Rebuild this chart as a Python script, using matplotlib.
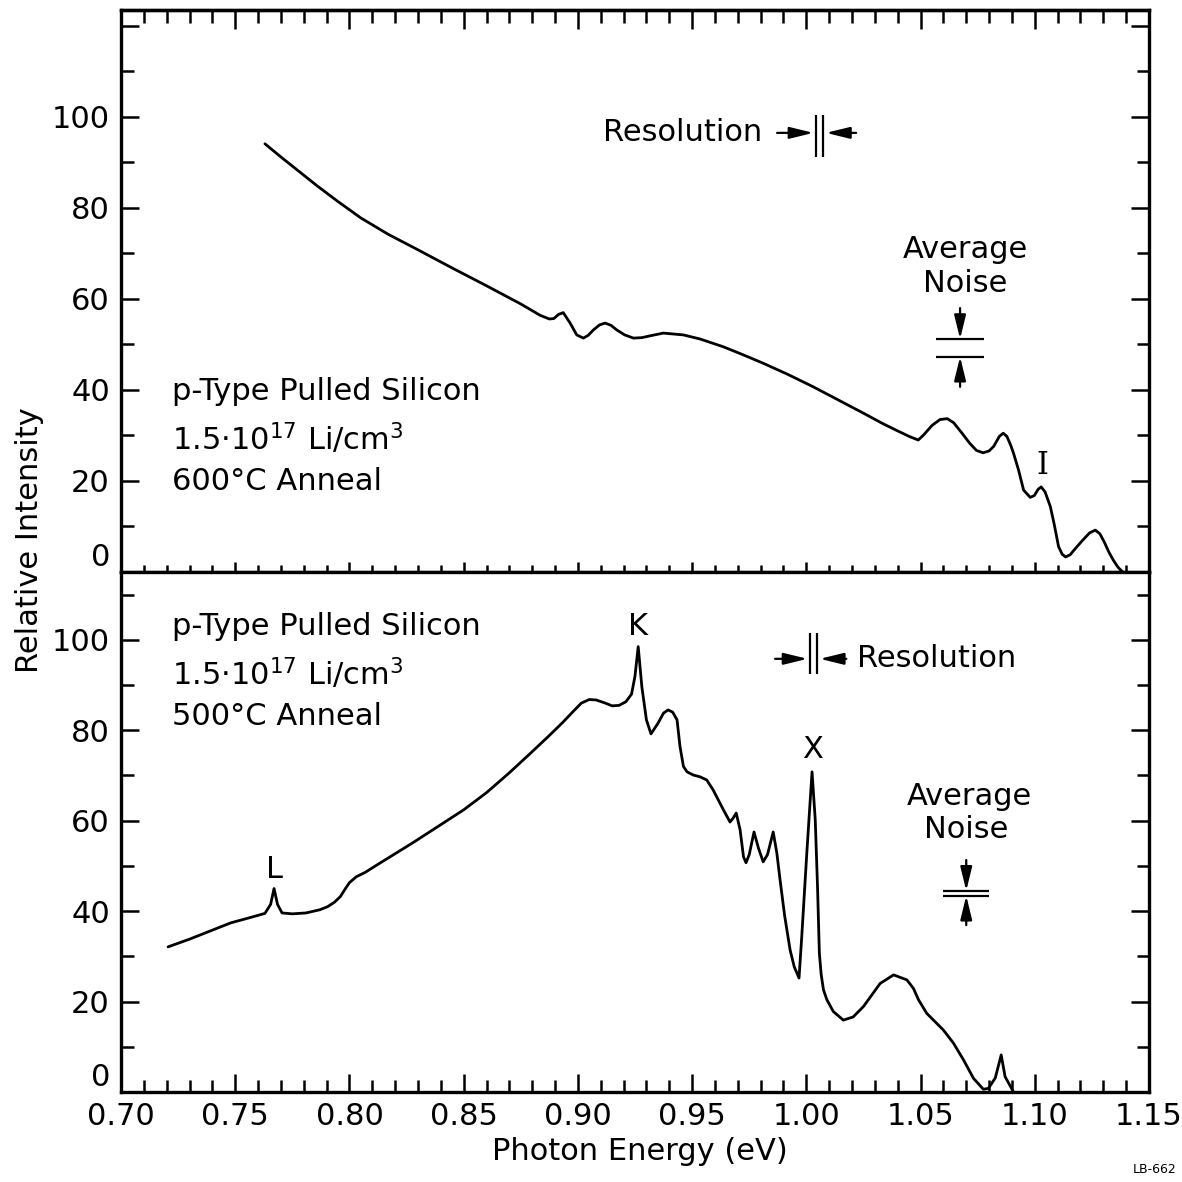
import matplotlib
matplotlib.use("Agg")
import matplotlib.pyplot as plt
from matplotlib.ticker import MultipleLocator, FixedLocator

# ---- 600 C anneal spectrum (upper panel) ----
energy_600 = [0.763, 0.770, 0.778, 0.786, 0.795, 0.805, 0.817, 0.830, 0.845, 0.860,
              0.875, 0.8835, 0.8875, 0.8895, 0.8915, 0.8936, 0.8966, 0.8995, 0.9024, 0.9045,
              0.9068, 0.9095, 0.9119, 0.9145, 0.917, 0.9205, 0.9243, 0.928, 0.9316, 0.9374,
              0.9462, 0.9535, 0.9636, 0.972, 0.981, 0.992, 1.003, 1.014, 1.025, 1.0335,
              1.040, 1.045, 1.049, 1.0515, 1.055, 1.0585, 1.0617, 1.0645, 1.068, 1.0715,
              1.0745, 1.0774, 1.080, 1.082, 1.0845, 1.0862, 1.0878, 1.0895, 1.0907, 1.0929,
              1.0951, 1.098, 1.0998, 1.1015, 1.1028, 1.1045, 1.1068, 1.1085, 1.1104, 1.112,
              1.1135, 1.1155, 1.118, 1.121, 1.124, 1.1265, 1.1285, 1.1305, 1.1325, 1.1345,
              1.1365, 1.1385]
intensity_600 = [94.1, 91.2, 88.0, 84.8, 81.4, 77.8, 74.2, 70.8, 66.8, 62.9,
                 58.9, 56.4, 55.6, 55.7, 56.6, 57.0, 54.7, 52.1, 51.4, 52.0,
                 53.2, 54.3, 54.7, 54.2, 53.2, 52.1, 51.4, 51.5, 51.9, 52.5,
                 52.1, 51.2, 49.5, 47.8, 45.9, 43.4, 40.7, 37.8, 34.9, 32.6,
                 31.0, 29.8, 29.0, 30.2, 32.2, 33.5, 33.7, 32.8, 30.6, 28.3,
                 26.7, 26.2, 26.6, 27.6, 29.8, 30.5, 29.8, 27.8, 26.1, 22.4,
                 18.0, 16.4, 16.8, 18.2, 18.7, 17.6, 14.4, 10.5, 5.6, 3.9,
                 3.3, 3.8, 5.3, 7.0, 8.6, 9.2, 8.4, 6.5, 4.3, 2.5,
                 1.0, 0.0]

# ---- 500 C anneal spectrum (lower panel) ----
energy_500 = [0.7206, 0.730, 0.740, 0.748, 0.756, 0.763, 0.7655, 0.767, 0.7685, 0.7705,
              0.775, 0.781, 0.787, 0.7905, 0.7935, 0.796, 0.798, 0.800, 0.803, 0.807,
              0.812, 0.820, 0.828, 0.839, 0.850, 0.860, 0.870, 0.879, 0.887, 0.8935,
              0.898, 0.9015, 0.905, 0.908, 0.912, 0.915, 0.918, 0.921, 0.9235, 0.925,
              0.9264, 0.928, 0.930, 0.932, 0.935, 0.9375, 0.9395, 0.9415, 0.9434, 0.9447,
              0.9462, 0.9478, 0.9505, 0.9535, 0.9564, 0.9592, 0.9637, 0.9666, 0.968, 0.9693,
              0.971, 0.9725, 0.9736, 0.975, 0.9771, 0.979, 0.9811, 0.983, 0.9855, 0.9871,
              0.9885, 0.9905, 0.9929, 0.9947, 0.9968, 0.9980, 1.0002, 1.0025, 1.0039, 1.0049,
              1.0057, 1.0065, 1.0075, 1.009, 1.0118, 1.0162, 1.0205, 1.025, 1.0323, 1.0382,
              1.044, 1.0469, 1.0491, 1.0527, 1.060, 1.0644, 1.0688, 1.0732, 1.0775, 1.0797,
              1.0827, 1.0853, 1.087, 1.0907]
intensity_500 = [32.1, 33.8, 35.8, 37.4, 38.5, 39.5, 41.5, 45.0, 41.5, 39.6,
                 39.4, 39.6, 40.3, 41.0, 42.0, 43.2, 44.8, 46.3, 47.6, 48.6,
                 50.2, 52.7, 55.2, 58.8, 62.4, 66.2, 70.6, 74.8, 78.6, 81.8,
                 84.2, 86.0, 86.8, 86.7, 86.0, 85.4, 85.5, 86.3, 88.0, 92.0,
                 98.5, 89.6, 82.3, 79.2, 81.5, 83.8, 84.5, 84.0, 82.3, 76.4,
                 72.0, 70.8, 70.1, 69.7, 69.0, 66.8, 62.4, 59.7, 60.6, 61.7,
                 58.0, 52.0, 50.7, 52.5, 57.5, 54.0, 50.9, 52.5, 57.5, 52.8,
                 46.9, 39.0, 31.4, 27.7, 25.2, 34.4, 52.8, 70.8, 60.2, 45.4,
                 30.7, 26.0, 22.6, 20.4, 17.8, 15.9, 16.6, 18.9, 24.0, 25.9,
                 24.8, 22.9, 20.4, 17.4, 13.7, 10.8, 7.1, 3.0, 0.6, 0.8,
                 3.1, 8.2, 3.4, 0.0]

# instrument markers (eV for resolution, intensity units for noise)
resolution_top = [1.0043, 1.0074]
resolution_bot = [1.0017, 1.0047]
noise_top = [47.3, 51.2]
noise_bot = [43.4, 44.5]

x_ticklabels = ["0.70", "0.75", "0.80", "0.85", "0.90", "0.95",
                "1.00", "1.05", "1.10", "1.15"]

FS = 22
LW_AX = 2.4
plt.rcParams["font.family"] = ["DejaVu Sans"]
plt.rcParams["mathtext.fontset"] = "dejavusans"

W = 1182.0
fig = plt.figure(figsize=(11.82, 11.82), dpi=100)
left = 121 / W
width = 1028 / W
ax_top = fig.add_axes([left, 1 - 572 / W, width, 562 / W])
ax_bot = fig.add_axes([left, 1 - 1092 / W, width, 520 / W], sharex=ax_top)

ax_top.set_xlim(0.70, 1.15)
ax_top.set_ylim(0, 123.5)
ax_bot.set_ylim(0, 115)

for ax in (ax_top, ax_bot):
    for sp in ax.spines.values():
        sp.set_linewidth(LW_AX)
    ax.yaxis.set_major_locator(MultipleLocator(20))
    ax.yaxis.set_minor_locator(MultipleLocator(10))
    ax.tick_params(axis="y", which="both", direction="in", left=True, right=True,
                   width=1.8, labelsize=FS, pad=8)
    ax.tick_params(axis="y", which="major", length=13)
    ax.tick_params(axis="y", which="minor", length=9)

ax_top.xaxis.set_major_locator(MultipleLocator(0.05))
ax_top.xaxis.set_minor_locator(MultipleLocator(0.01))

# upper panel: crossing ticks along the shared divider, inward ticks on top
ax_top.tick_params(axis="x", which="both", direction="inout", bottom=True, top=False,
                   labelbottom=False, width=1.8)
ax_top.tick_params(axis="x", which="major", length=15)
ax_top.tick_params(axis="x", which="minor", length=10)
sec = ax_top.secondary_xaxis("top")
sec.xaxis.set_major_locator(MultipleLocator(0.05))
sec.xaxis.set_minor_locator(MultipleLocator(0.01))
sec.tick_params(axis="x", which="both", direction="in", width=1.8, labeltop=False)
sec.tick_params(axis="x", which="major", length=14)
sec.tick_params(axis="x", which="minor", length=9)
sec.spines["top"].set_linewidth(LW_AX)

# lower panel: inward ticks along the energy axis
ax_bot.tick_params(axis="x", which="both", direction="in", bottom=True, top=False,
                   labelsize=FS, width=1.8, pad=7)
ax_bot.tick_params(axis="x", which="major", length=13)
ax_bot.tick_params(axis="x", which="minor", length=9)
ax_bot.xaxis.set_major_locator(FixedLocator([0.70 + 0.05 * i for i in range(len(x_ticklabels))]))
ax_bot.set_xticklabels(x_ticklabels)

ax_top.set_yticks([0, 20, 40, 60, 80, 100, 120])
ax_top.set_yticklabels(["0", "20", "40", "60", "80", "100", ""])
ax_bot.set_yticks([0, 20, 40, 60, 80, 100])
ax_bot.set_yticklabels(["0", "20", "40", "60", "80", "100"])
for ax in (ax_top, ax_bot):
    lab0 = ax.get_yticklabels()[0]
    lab0.set_verticalalignment("bottom")

# spectra
ax_top.plot(energy_600, intensity_600, color="black", lw=2.0,
            solid_joinstyle="round", solid_capstyle="round")
ax_bot.plot(energy_500, intensity_500, color="black", lw=2.0,
            solid_joinstyle="round", solid_capstyle="round")

# sample descriptions
ax_top.text(0.7223, 39.6, "p-Type Pulled Silicon", fontsize=FS, va="center", ha="left")
ax_top.text(0.7223, 29.4, r"1.5$\cdot$10$^{17}$ Li/cm$^{3}$", fontsize=FS, va="center", ha="left")
ax_top.text(0.7223, 19.8, "600°C Anneal", fontsize=FS, va="center", ha="left")
ax_bot.text(0.7223, 102.9, "p-Type Pulled Silicon", fontsize=FS, va="center", ha="left")
ax_bot.text(0.7223, 92.6, r"1.5$\cdot$10$^{17}$ Li/cm$^{3}$", fontsize=FS, va="center", ha="left")
ax_bot.text(0.7223, 83.0, "500°C Anneal", fontsize=FS, va="center", ha="left")

# peak labels
ax_top.text(1.1032, 23.5, "I", fontsize=FS, ha="center", va="center", family="DejaVu Serif")
ax_bot.text(0.9262, 103.0, "K", fontsize=FS, ha="center", va="center")
ax_bot.text(1.0025, 75.7, "X", fontsize=FS, ha="center", va="center")
ax_bot.text(0.7674, 49.3, "L", fontsize=FS, ha="center", va="center")

arrow = dict(arrowstyle="-|>,head_width=0.22,head_length=0.9", color="black",
             lw=1.6, shrinkA=0, shrinkB=0, mutation_scale=16)

# resolution markers
def resolution(ax, edges, y, y0, y1, xl, xr):
    ax.vlines(edges, y0, y1, color="black", lw=1.6)
    ax.annotate("", xy=(edges[0] - 0.0012, y), xytext=(xl, y), arrowprops=arrow)
    ax.annotate("", xy=(edges[1] + 0.0012, y), xytext=(xr, y), arrowprops=arrow)

resolution(ax_top, resolution_top, 96.5, 91.2, 100.4, 0.9872, 1.0218)
ax_top.text(0.9807, 96.5, "Resolution", fontsize=FS, ha="right", va="center")
resolution(ax_bot, resolution_bot, 95.8, 92.5, 101.5, 0.9863, 1.0175)
ax_bot.text(1.0222, 95.8, "Resolution", fontsize=FS, ha="left", va="center")

# average noise markers
def noise(ax, band, xc, half, top_tail, bot_tail):
    ax.hlines(band, xc - half, xc + half, color="black", lw=1.6)
    ax.annotate("", xy=(xc, band[1]), xytext=(xc, top_tail), arrowprops=arrow)
    ax.annotate("", xy=(xc, band[0]), xytext=(xc, bot_tail), arrowprops=arrow)

noise(ax_top, noise_top, 1.0673, 0.0105, 58.0, 40.7)
ax_top.text(1.0695, 70.8, "Average", fontsize=FS, ha="center", va="center")
ax_top.text(1.0695, 63.5, "Noise", fontsize=FS, ha="center", va="center")
noise(ax_bot, noise_bot, 1.0700, 0.0100, 51.3, 36.9)
ax_bot.text(1.0712, 65.3, "Average", fontsize=FS, ha="center", va="center")
ax_bot.text(1.0700, 58.0, "Noise", fontsize=FS, ha="center", va="center")

# axis titles
fig.text(30 / W, 1 - 540 / W, "Relative Intensity", rotation=90, fontsize=FS,
         ha="center", va="center")
fig.text(640 / W, 1 - 1152 / W, "Photon Energy (eV)", fontsize=FS,
         ha="center", va="center")
fig.text(1176 / W, 1 - 1176 / W, "LB-662", fontsize=9, ha="right", va="bottom")

fig.savefig("out.png", dpi=100, facecolor="white")
